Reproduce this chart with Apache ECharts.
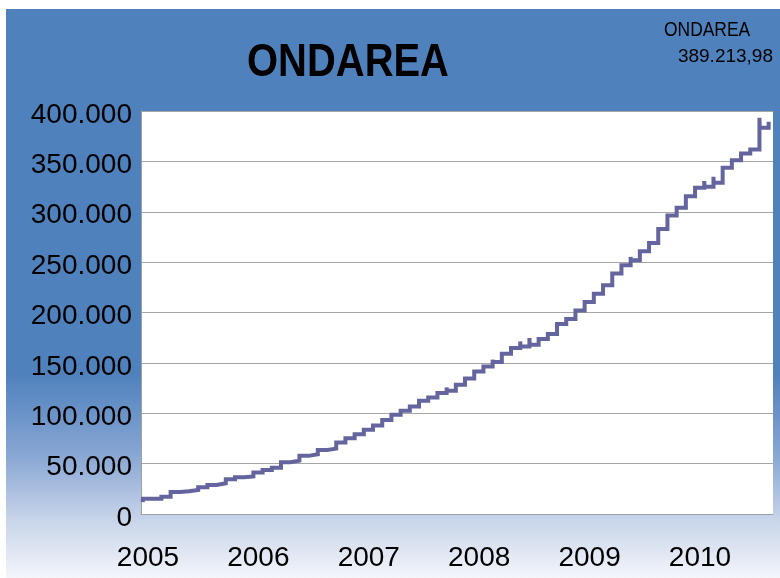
<!DOCTYPE html>
<html><head><meta charset="utf-8">
<script src="https://cdn.jsdelivr.net/npm/echarts/dist/echarts.min.js"></script>
<style>html,body{margin:0;padding:0;background:#fff}#c{width:780px;height:578px}</style>
</head><body><div id="c"></div>
<script>
// Data
const titleText = 'ONDAREA';
const seriesName = 'ONDAREA';
const lastValueText = '389.213,98';
const yearLabels = [2005, 2006, 2007, 2008, 2009, 2010];
const yTickValues = [0, 50000, 100000, 150000, 200000, 250000, 300000, 350000, 400000];
const dates = [
  '2004-12-14','2004-12-15','2005-02-15','2005-03-15','2005-04-15','2005-05-15','2005-06-15',
  '2005-07-15','2005-08-15','2005-09-15','2005-10-15','2005-11-15','2005-12-15',
  '2006-01-15','2006-02-15','2006-03-15','2006-04-15','2006-05-15','2006-06-15',
  '2006-07-15','2006-08-15','2006-09-15','2006-10-15','2006-11-15','2006-12-15',
  '2007-01-15','2007-02-15','2007-03-15','2007-04-15','2007-05-15','2007-06-15',
  '2007-07-15','2007-08-15','2007-09-15','2007-09-16','2007-10-15','2007-11-15','2007-12-15',
  '2008-01-15','2008-02-15','2008-02-16','2008-03-15','2008-04-15','2008-05-15','2008-05-16',
  '2008-06-15','2008-06-16','2008-07-15','2008-08-15','2008-09-15','2008-10-15','2008-11-15','2008-12-15',
  '2009-01-15','2009-02-15','2009-03-15','2009-04-15','2009-05-15','2009-05-16','2009-06-15',
  '2009-07-15','2009-08-15','2009-09-15','2009-10-15','2009-11-15','2009-12-15',
  '2010-01-15','2010-01-16','2010-02-15','2010-02-16','2010-03-15','2010-04-15','2010-05-15',
  '2010-06-15','2010-07-15','2010-07-16','2010-08-15'
];
const values = [
  11800,15200,17200,21900,22500,23900,26500,
  28800,30500,34500,36500,37300,41100,
  43700,46000,51400,53000,57700,59300,
  63600,64900,71000,75200,79200,83500,
  87800,93400,98400,102400,106700,112300,
  115600,120000,125500,122300,128300,134500,141400,
  146400,153000,150800,159000,164700,171300,166300,
  174600,168000,173600,178600,188600,193500,202000,210400,
  218700,227000,238600,247000,255200,251800,260800,
  269000,283000,296200,303900,315500,323800,
  330400,324800,334700,328700,343600,351200,357900,
  361800,393300,383400,389213.98
];

function toYear(s) {
  const p = s.split('-').map(Number);
  return p[0] + (p[1] - 1) / 12 + (p[2] - 1) / 365;
}
const seriesData = dates.map((d, i) => [toYear(d), values[i]]);

const chart = echarts.init(document.getElementById('c'), null, {renderer: 'canvas'});
const labelFont = '"Liberation Sans", Arial, sans-serif';

chart.setOption({
  animation: false,
  backgroundColor: '#ffffff',
  graphic: [
    {
      type: 'rect', z: -10, silent: true,
      shape: {x: 6, y: 9, width: 774, height: 569},
      style: {
        fill: new echarts.graphic.LinearGradient(0, 0, 0, 1, [
          {offset: 0, color: '#4f81bd'},
          {offset: 0.64, color: '#4f81bd'},
          {offset: 0.78, color: '#86a5d3'},
          {offset: 0.9, color: '#c9d5ea'},
          {offset: 1, color: '#f3f5fa'}
        ])
      }
    },
    {
      type: 'text', z: 10, x: 247, y: 40, scaleX: 0.85,
      style: {text: titleText, font: 'bold 47px ' + labelFont, fill: '#000', verticalAlign: 'top'}
    },
    {
      type: 'text', z: 10, x: 664, y: 20, scaleX: 0.83,
      style: {text: seriesName, font: '21px ' + labelFont, fill: '#000', verticalAlign: 'top'}
    },
    {
      type: 'text', z: 10, x: 773, y: 47,
      style: {text: lastValueText, font: '19px ' + labelFont, fill: '#000', align: 'right', verticalAlign: 'top'}
    }
  ],
  grid: {
    left: 141, top: 111, right: 7, bottom: 64,
    show: true, backgroundColor: '#ffffff', borderWidth: 0
  },
  xAxis: {
    type: 'value',
    min: 2004.937, max: 2010.661,
    axisLine: {show: true, lineStyle: {color: '#a0a0a0', width: 1}},
    axisTick: {show: false},
    splitLine: {show: false},
    axisLabel: {
      margin: 30,
      fontFamily: labelFont, fontSize: 28, color: '#000',
      formatter: function (v) {
        const r = Math.round(v);
        return (Math.abs(v - r) < 1e-6 && yearLabels.indexOf(r) >= 0) ? String(r) : '';
      }
    }
  },
  yAxis: {
    type: 'value',
    min: 0, max: 400000, interval: 50000,
    axisLine: {show: true, lineStyle: {color: '#a0a0a0', width: 1}},
    axisTick: {show: false},
    splitLine: {show: true, lineStyle: {color: '#a6a6a6', width: 1}},
    axisLabel: {
      margin: 9,
      fontFamily: labelFont, fontSize: 28, color: '#000',
      verticalAlign: 'top', lineHeight: 8,
      formatter: function (v) {
        if (yTickValues.indexOf(v) < 0) return '';
        return v === 0 ? '0' : (v / 1000) + '.000';
      }
    }
  },
  series: [{
    name: seriesName,
    type: 'line',
    step: 'end',
    data: seriesData,
    showSymbol: false,
    symbol: 'none',
    lineStyle: {color: '#64649e', width: 4, join: 'miter', cap: 'butt'},
    clip: false
  }]
});
</script>
</body></html>
